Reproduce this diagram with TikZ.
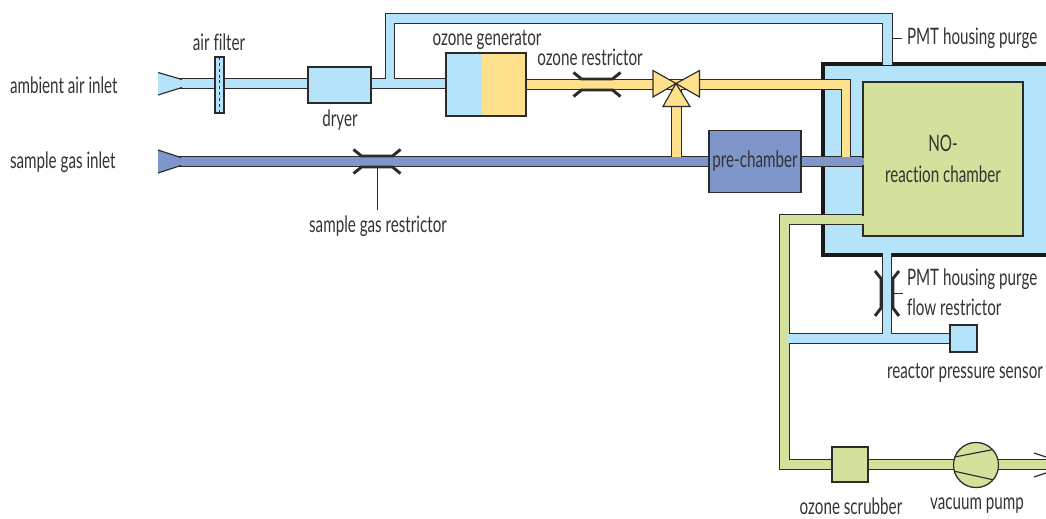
\documentclass[tikz,border=0pt]{standalone}
\usepackage{fontspec}
\setmainfont[FakeStretch=0.67,Ligatures={NoCommon}]{Lato}
\usetikzlibrary{calc}
\definecolor{airblue}{HTML}{B5E3FA}
\definecolor{ozoneyel}{HTML}{FFE18D}
\definecolor{greenish}{HTML}{D2E19B}
\definecolor{samplebl}{HTML}{7F96CB}
\definecolor{inkline}{HTML}{2B2B2B}
\definecolor{inktext}{HTML}{333333}
\newdimen\pxu \pxu=0.75pt
\tikzset{
  boxnode/.style={draw=inkline,line width=0.85pt,inner sep=0pt,outer sep=0pt,text=inktext,font=\fontsize{17}{19}\selectfont},
  lbl/.style={inner sep=0pt,outer sep=0pt,text=inktext,font=\fontsize{17}{19}\selectfont},
  pipeout/.style={line width=7.7pt,draw=inkline,line cap=butt,line join=miter},
  pipein/.style={line width=6.1pt,line cap=butt,line join=miter},
  restr/.style={draw=inkline,line width=2.2pt,line cap=butt,line join=miter},
  leader/.style={draw=inkline,line width=0.5pt},
  thinl/.style={draw=inkline,line width=0.85pt},
}
\newcommand{\restrH}[2]{%
  \draw[restr] (#1-23.5,#2-12) -- (#1-15.5,#2-5.5) -- (#1+15.5,#2-5.5) -- (#1+23.5,#2-12);
  \draw[restr] (#1-23.5,#2+12) -- (#1-15.5,#2+5.5) -- (#1+15.5,#2+5.5) -- (#1+23.5,#2+12);
}
\begin{document}
\begin{tikzpicture}[x=0.75pt,y=-0.75pt]
\useasboundingbox (0,0) rectangle (1046,518);
% named points
\coordinate (airstart) at (178,83.5);
\coordinate (branch) at (390,83.5);
\coordinate (branchtop) at (390,18.5);
\coordinate (purgecorner) at (887.5,18.5);
\coordinate (purgein) at (887.5,65);
\coordinate (samplestart) at (178,161.5);
\coordinate (valve) at (676,83.5);
\coordinate (yelllevel) at (676,84.5);
\coordinate (yelltee) at (676.5,161);
\coordinate (yellcorner) at (846,84.5);
\coordinate (yellend) at (846,161);
\coordinate (greenstart) at (865,219.5);
\coordinate (greencorner) at (784.5,219.5);
\coordinate (greenlow) at (784.5,464.5);
\coordinate (greenend) at (1046,464.5);
\coordinate (airtee) at (887,338.5);
\coordinate (airleft) at (787,338.5);
\coordinate (purgeout) at (887,253);
\coordinate (exhtop) at (1034,453);
\coordinate (exhtopend) at (1046,457);
\coordinate (exhlow) at (1034,477);
\coordinate (exhlowend) at (1046,473);
% housing
\fill[airblue] (1046,64) -- (823,64) -- (823,255) -- (1046,255) -- cycle;
\draw[draw=black!90,line width=2.4pt,line join=miter] (1046,64) -- (823,64) -- (823,255) -- (1046,255);
% equipment nodes (positions for pipes)
\node[boxnode,fill=airblue,minimum width=9\pxu,minimum height=56\pxu] (filter) at (219.5,85) {};
\node[boxnode,fill=airblue,minimum width=63\pxu,minimum height=36\pxu] (dryer) at (339.5,85) {};
\node[boxnode,fill=ozoneyel,minimum width=80\pxu,minimum height=63\pxu,
  path picture={\fill[airblue] (path picture bounding box.north west) rectangle ([xshift=27pt]path picture bounding box.south west);}] (gen) at (486,84.5) {};
\node[boxnode,fill=samplebl,minimum width=92\pxu,minimum height=62\pxu] (pre) at (755,161.5) {pre-chamber};
\node[boxnode,fill=greenish,minimum width=160\pxu,minimum height=154\pxu,align=center] (chamber) at (943,159) {NO-\\[4pt]reaction chamber};
\node[boxnode,fill=airblue,minimum width=27\pxu,minimum height=27\pxu] (sensor) at (963.5,338.5) {};
\node[boxnode,fill=greenish,minimum width=36\pxu,minimum height=35\pxu] (scrub) at (850,464.5) {};
\node[boxnode,circle,fill=greenish,minimum size=45\pxu] (pump) at (976,465) {};
% pipe outlines
\draw[pipeout] (airstart) -- (gen.west |- airstart);
\draw[pipeout] (branch) -- (branchtop) -- (purgecorner) -- (purgein);
\draw[pipeout] (gen.east |- yelllevel) -- (yelllevel);
\draw[pipeout] (yelllevel) -- (yellcorner) -- (yellend);
\draw[pipeout] (yelltee) -- (yelllevel -| yelltee);
\draw[pipeout] (samplestart) -- (chamber.west |- samplestart);
\draw[pipeout] (greenstart) -- (greencorner) -- (greenlow) -- (greenend);
\draw[pipeout] (purgeout) -- (airtee);
\draw[pipeout] (airleft) -- (sensor.west);
% pipe fills
\draw[pipein,airblue] (airstart) -- (gen.west |- airstart);
\draw[pipein,airblue] (branch) -- (branchtop) -- (purgecorner) -- (purgein);
\draw[pipein,ozoneyel] (gen.east |- yelllevel) -- (yelllevel);
\draw[pipein,ozoneyel] (yelllevel) -- (yellcorner) -- (yellend);
\draw[pipein,ozoneyel] (yelltee) -- (yelllevel -| yelltee);
\draw[pipein,samplebl] (samplestart) -- (chamber.west |- samplestart);
\draw[pipein,greenish] (greenstart) -- (greencorner) -- (greenlow) -- (greenend);
\draw[pipein,airblue] (purgeout) -- (airtee);
\draw[pipein,airblue] (airleft) -- (sensor.west);
% inlets
\fill[airblue] (158,72.5) -- (182,79.5) -- (182,87.5) -- (158,95) -- cycle;
\draw[thinl] (158,72.5) -- (182,79.5);
\draw[thinl] (158,95) -- (182,87.5);
\fill[samplebl] (158,150) -- (181,157.5) -- (181,165.5) -- (158,173) -- cycle;
\draw[thinl] (158,150) -- (181,157.5);
\draw[thinl] (158,173) -- (181,165.5);
% redraw nodes on top of pipes
\node[boxnode,fill=airblue,minimum width=9\pxu,minimum height=56\pxu] (filter) at (219.5,85) {};
\draw[inkline,line width=1.0pt,dash pattern=on 2.2pt off 2.2pt] (filter.north) -- (filter.south);
\node[boxnode,fill=airblue,minimum width=63\pxu,minimum height=36\pxu] (dryer) at (339.5,85) {};
\node[boxnode,fill=ozoneyel,minimum width=80\pxu,minimum height=63\pxu,
  path picture={\fill[airblue] (path picture bounding box.north west) rectangle ([xshift=27pt]path picture bounding box.south west);}] (gen) at (486,84.5) {};
\node[boxnode,fill=samplebl,minimum width=92\pxu,minimum height=62\pxu] (pre) at (755,161.5) {pre-chamber};
\node[boxnode,fill=greenish,minimum width=160\pxu,minimum height=154\pxu,align=center] (chamber) at (943,159) {NO-\\[4pt]reaction chamber};
\fill[greenish] (862,215.5) rectangle (865,223.5);
\fill[samplebl] (860,158) rectangle (864,165);
\node[boxnode,fill=airblue,minimum width=27\pxu,minimum height=27\pxu] (sensor) at (963.5,338.5) {};
\node[boxnode,fill=greenish,minimum width=36\pxu,minimum height=35\pxu] (scrub) at (850,464.5) {};
\node[boxnode,circle,fill=greenish,minimum size=45\pxu] (pump) at (976,465) {};
\draw[thinl] (pump.159) -- (pump.43);
\draw[thinl] (pump.196) -- (pump.319);
% valve
\draw[fill=ozoneyel,draw=inkline,line width=0.85pt,line join=miter] (valve) -- (653,70.5) -- (653,97) -- cycle;
\draw[fill=ozoneyel,draw=inkline,line width=0.85pt,line join=miter] (valve) -- (699.5,70.5) -- (699.5,97) -- cycle;
\draw[fill=ozoneyel,draw=inkline,line width=0.85pt,line join=miter] (valve) -- (663,106.5) -- (690,106.5) -- cycle;
% restrictors
\restrH{377}{161.5}
\restrH{597}{84.5}
\draw[restr] (875,271) -- (881,278.5) -- (881,308) -- (875,316);
\draw[restr] (899,271) -- (893,278.5) -- (893,308) -- (899,316);
% exhaust
\draw[thinl] (exhtop) -- (exhtopend);
\draw[thinl] (exhlow) -- (exhlowend);
% labels
\node[lbl,anchor=west] (t1) at (10,85) {ambient air inlet};
\node[lbl,anchor=west] (t2) at (10,162) {sample gas inlet};
\node[lbl] (t3) at (219,42) {air filter};
\node[lbl] (t4) at (340,120) {dryer};
\node[lbl] (t5) at (487,40) {ozone generator};
\node[lbl] (t6) at (590,57) {ozone restrictor};
\node[lbl] (t7) at (378,226) {sample gas restrictor};
\node[lbl,anchor=west] (t8) at (907,38) {PMT housing purge};
\node[lbl,anchor=west] (t9) at (907,279) {PMT housing purge};
\node[lbl,anchor=west] (t10) at (907,307) {flow restrictor};
\node[lbl] (t11) at (965,373) {reactor pressure sensor};
\node[lbl] (t12) at (851,506) {ozone scrubber};
\node[lbl] (t13) at (977,506) {vacuum pump};
% leaders
\coordinate (ldA) at (377,168);
\coordinate (ldB) at (377,210);
\draw[leader] (ldA) -- (ldB);
\draw[leader] (892,38) -- (t8.west -| 902,38);
\draw[leader] (893,293) -- (903,293);
\end{tikzpicture}
\end{document}
